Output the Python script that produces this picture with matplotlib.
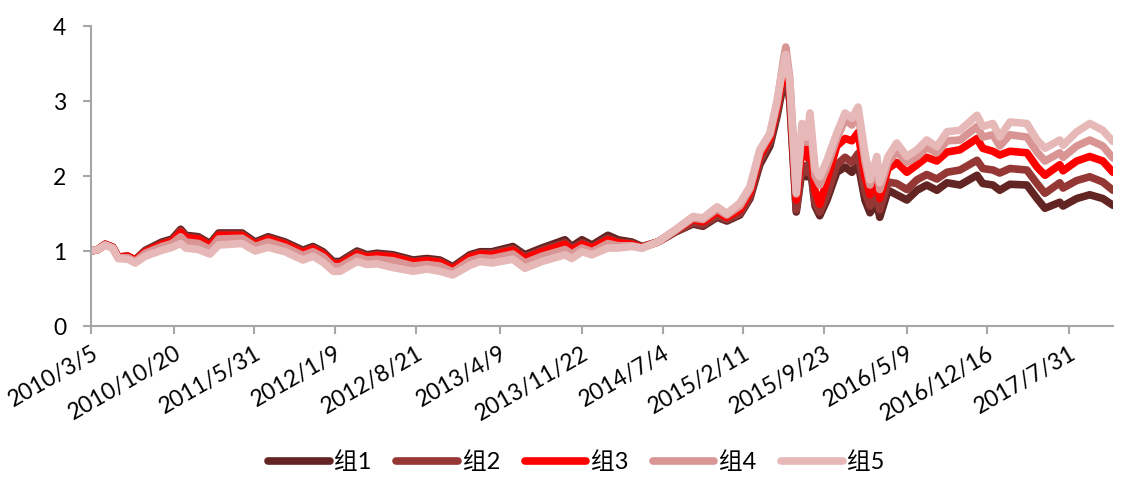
import pandas as pd
import matplotlib
matplotlib.use("Agg")
import matplotlib.pyplot as plt

plt.rcParams["font.family"] = ["Lato", "Noto Sans CJK SC", "DejaVu Sans"]

dates = [
    "2010-03-05", "2010-03-24", "2010-04-13", "2010-05-04", "2010-05-19", "2010-06-15",
    "2010-07-05", "2010-08-02", "2010-09-17", "2010-10-15", "2010-11-08", "2010-11-22",
    "2010-12-27", "2011-01-28", "2011-02-21", "2011-04-27", "2011-06-02", "2011-07-08",
    "2011-08-24", "2011-10-12", "2011-11-09", "2011-12-07", "2012-01-04", "2012-01-23",
    "2012-03-10", "2012-04-06", "2012-05-04", "2012-06-17", "2012-08-12", "2012-09-19",
    "2012-10-25", "2012-11-30", "2013-01-16", "2013-02-13", "2013-03-18", "2013-05-15",
    "2013-06-17", "2013-08-03", "2013-10-06", "2013-10-25", "2013-11-22", "2013-12-20",
    "2014-02-02", "2014-03-02", "2014-04-09", "2014-05-07", "2014-06-20", "2014-08-06",
    "2014-09-25", "2014-10-23", "2014-12-01", "2014-12-28", "2015-02-02", "2015-03-02",
    "2015-03-29", "2015-04-26", "2015-05-16", "2015-06-01", "2015-06-09", "2015-06-20",
    "2015-07-08", "2015-07-24", "2015-08-06", "2015-08-15", "2015-08-29", "2015-09-11",
    "2015-10-01", "2015-10-28", "2015-11-20", "2015-12-09", "2015-12-26", "2016-01-14",
    "2016-01-28", "2016-02-16", "2016-02-24", "2016-03-18", "2016-04-11", "2016-05-09",
    "2016-06-06", "2016-07-03", "2016-07-31", "2016-08-28", "2016-10-03", "2016-11-19",
    "2016-12-05", "2017-01-02", "2017-01-21", "2017-02-18", "2017-04-06", "2017-05-04",
    "2017-05-26", "2017-07-06", "2017-07-15", "2017-08-22", "2017-09-27", "2017-11-02",
    "2017-11-30",
]

g1 = [1.00, 1.02, 1.09, 1.05, 0.92, 0.93, 0.88, 1.01, 1.12, 1.16, 1.29, 1.21,
      1.19, 1.10, 1.24, 1.24, 1.12, 1.19, 1.12, 1.01, 1.06, 0.99, 0.86, 0.86,
      1.00, 0.95, 0.97, 0.95, 0.88, 0.90, 0.88, 0.79, 0.95, 0.99, 0.99, 1.06,
      0.95, 1.04, 1.15, 1.06, 1.15, 1.08, 1.21, 1.15, 1.12, 1.06, 1.12, 1.25,
      1.36, 1.33, 1.45, 1.40, 1.48, 1.70, 2.15, 2.40, 2.80, 3.20, 3.35, 3.00,
      1.52, 2.08, 1.99, 2.15, 1.60, 1.47, 1.68, 2.05, 2.12, 2.05, 2.17, 1.68,
      1.51, 1.64, 1.45, 1.81, 1.75, 1.68, 1.81, 1.88, 1.81, 1.91, 1.88, 2.01,
      1.90, 1.88, 1.81, 1.89, 1.88, 1.70, 1.57, 1.65, 1.60, 1.70, 1.75, 1.70,
      1.61]
g2 = [1.00, 1.02, 1.09, 1.05, 0.92, 0.93, 0.88, 1.00, 1.10, 1.14, 1.27, 1.19,
      1.17, 1.08, 1.22, 1.22, 1.10, 1.17, 1.10, 0.99, 1.04, 0.97, 0.84, 0.84,
      0.98, 0.93, 0.95, 0.93, 0.86, 0.88, 0.86, 0.77, 0.93, 0.97, 0.97, 1.03,
      0.92, 1.01, 1.11, 1.03, 1.11, 1.05, 1.17, 1.12, 1.10, 1.05, 1.12, 1.25,
      1.38, 1.35, 1.47, 1.42, 1.50, 1.73, 2.20, 2.46, 2.85, 3.28, 3.45, 3.05,
      1.55, 2.15, 2.05, 2.22, 1.65, 1.52, 1.75, 2.15, 2.25, 2.18, 2.30, 1.80,
      1.60, 1.72, 1.55, 1.92, 1.90, 1.82, 1.95, 2.02, 1.96, 2.05, 2.08, 2.21,
      2.10, 2.08, 2.04, 2.10, 2.08, 1.90, 1.77, 1.91, 1.84, 1.94, 1.99, 1.92,
      1.81]
g3 = [1.00, 1.02, 1.09, 1.05, 0.92, 0.93, 0.88, 0.99, 1.09, 1.13, 1.25, 1.18,
      1.16, 1.07, 1.21, 1.21, 1.09, 1.16, 1.09, 0.98, 1.03, 0.96, 0.83, 0.83,
      0.96, 0.92, 0.94, 0.92, 0.85, 0.87, 0.85, 0.76, 0.92, 0.96, 0.95, 1.01,
      0.90, 0.99, 1.09, 1.01, 1.09, 1.04, 1.15, 1.11, 1.09, 1.05, 1.12, 1.27,
      1.42, 1.39, 1.52, 1.45, 1.55, 1.78, 2.27, 2.50, 2.92, 3.35, 3.55, 3.15,
      1.68, 2.40, 2.25, 2.50, 1.80, 1.62, 1.95, 2.40, 2.50, 2.47, 2.58, 2.00,
      1.75, 1.90, 1.70, 2.10, 2.18, 2.05, 2.15, 2.25, 2.20, 2.32, 2.35, 2.50,
      2.37, 2.33, 2.28, 2.33, 2.31, 2.12, 2.01, 2.15, 2.07, 2.20, 2.26, 2.20,
      2.05]
g4 = [1.00, 1.02, 1.08, 1.04, 0.91, 0.91, 0.86, 0.97, 1.06, 1.10, 1.19, 1.12,
      1.10, 1.02, 1.16, 1.17, 1.06, 1.12, 1.05, 0.94, 0.99, 0.92, 0.79, 0.79,
      0.92, 0.88, 0.89, 0.87, 0.80, 0.82, 0.80, 0.72, 0.87, 0.91, 0.90, 0.96,
      0.84, 0.93, 1.02, 0.96, 1.04, 0.99, 1.10, 1.07, 1.07, 1.04, 1.12, 1.27,
      1.44, 1.42, 1.56, 1.48, 1.60, 1.83, 2.32, 2.55, 2.97, 3.50, 3.72, 3.30,
      1.76, 2.62, 2.45, 2.75, 2.00, 1.88, 2.12, 2.50, 2.75, 2.68, 2.85, 2.20,
      1.88, 2.15, 1.82, 2.18, 2.33, 2.18, 2.26, 2.38, 2.31, 2.47, 2.48, 2.66,
      2.52, 2.55, 2.40, 2.55, 2.52, 2.32, 2.20, 2.31, 2.25, 2.40, 2.48, 2.40,
      2.24]
g5 = [1.00, 1.02, 1.08, 1.04, 0.90, 0.89, 0.84, 0.93, 1.01, 1.05, 1.10, 1.04,
      1.02, 0.96, 1.08, 1.10, 1.00, 1.05, 0.99, 0.88, 0.93, 0.85, 0.73, 0.73,
      0.86, 0.82, 0.83, 0.78, 0.73, 0.76, 0.73, 0.68, 0.81, 0.86, 0.84, 0.89,
      0.77, 0.86, 0.95, 0.90, 0.99, 0.95, 1.04, 1.04, 1.06, 1.04, 1.12, 1.28,
      1.46, 1.44, 1.59, 1.50, 1.64, 1.86, 2.35, 2.57, 3.01, 3.45, 3.62, 3.25,
      1.78, 2.70, 2.52, 2.84, 2.10, 1.99, 2.21, 2.57, 2.84, 2.77, 2.92, 2.31,
      1.95, 2.26, 1.91, 2.26, 2.44, 2.26, 2.35, 2.48, 2.39, 2.59, 2.61, 2.81,
      2.66, 2.70, 2.52, 2.72, 2.70, 2.48, 2.37, 2.48, 2.41, 2.59, 2.70, 2.61,
      2.46]

series = ["组1", "组2", "组3", "组4", "组5"]
colors = ["#632523", "#953735", "#FF0000", "#D99594", "#E6B9B8"]

tick_labels = ["2010/3/5", "2010/10/20", "2011/5/31", "2012/1/9", "2012/8/21",
               "2013/4/9", "2013/11/22", "2014/7/4", "2015/2/11", "2015/9/23",
               "2016/5/9", "2016/12/16", "2017/7/31"]

x = pd.to_datetime(dates)
ticks = pd.to_datetime(tick_labels, format="%Y/%m/%d")

fig = plt.figure(figsize=(11.31, 4.8), dpi=100)
ax = fig.add_axes([0.0805, 0.3208, 0.9035, 0.625])

for name, vals, c in zip(series, [g1, g2, g3, g4, g5], colors):
    ax.plot(x, vals, color=c, lw=5.5, label=name,
            solid_joinstyle="round", solid_capstyle="round")

ax.set_ylim(0, 4)
ax.set_yticks([0, 1, 2, 3, 4])
ax.set_xlim(x[0], x[-1])
ax.set_xticks(ticks)
ax.set_xticklabels(tick_labels, rotation=30, ha="right", rotation_mode="anchor")

for s in ["top", "right"]:
    ax.spines[s].set_visible(False)
for s in ["left", "bottom"]:
    ax.spines[s].set_color("#A6A6A6")
    ax.spines[s].set_linewidth(1.5)
ax.tick_params(axis="both", colors="#A6A6A6", width=1.5, length=6,
               labelcolor="black", labelsize=16.5)
ax.tick_params(axis="y", pad=12)
ax.tick_params(axis="x", pad=6)

leg = ax.legend(loc="center", bbox_to_anchor=(0.475, -0.453), ncol=5, frameon=False,
                fontsize=17, handlelength=2.6, columnspacing=1.05, handletextpad=0.2)
for h in leg.get_lines():
    h.set_linewidth(5.5)
    h.set_solid_capstyle("round")

fig.savefig("out.png", dpi=100)
